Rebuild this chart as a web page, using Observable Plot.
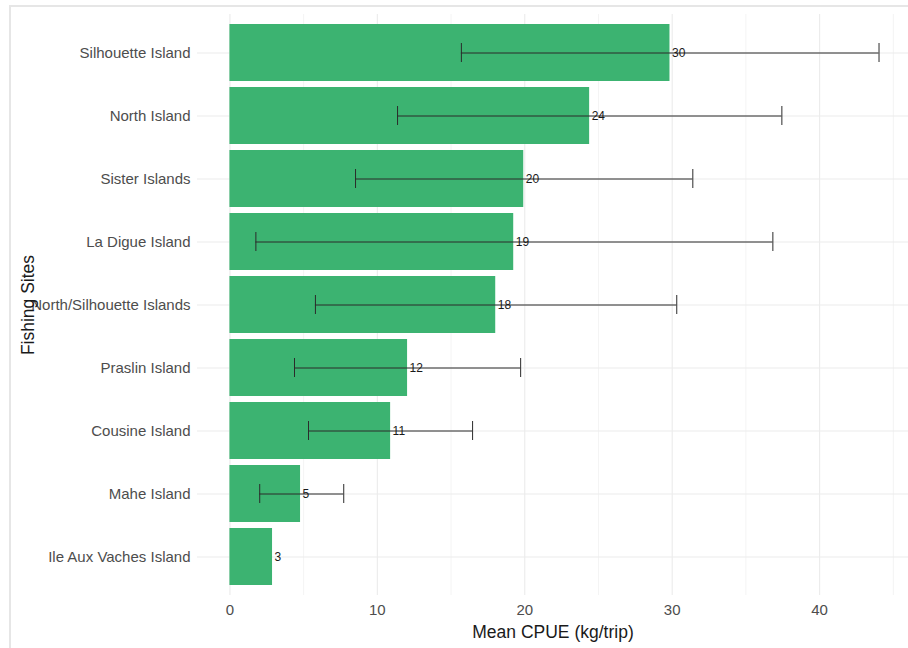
<!DOCTYPE html>
<html>
<head>
<meta charset="utf-8">
<script src="https://cdn.jsdelivr.net/npm/d3@7"></script>
<script src="https://cdn.jsdelivr.net/npm/@observablehq/plot@0.6"></script>
<style>
  html, body { margin: 0; padding: 0; background: #fff; }
  #wrap { position: relative; width: 908px; height: 648px; }
  #frame { position: absolute; left: 9px; top: 5px; right: 0; bottom: 0;
           border-left: 2px solid #e6e6e6; border-top: 2px solid #e6e6e6; pointer-events: none; }
  #chart { position: absolute; left: 0; top: 0; }
</style>
</head>
<body>
<div id="wrap"><div id="chart"></div><div id="frame"></div></div>
<script>
// Data
const sites = ["Silhouette Island", "North Island", "Sister Islands", "La Digue Island",
  "North/Silhouette Islands", "Praslin Island", "Cousine Island", "Mahe Island", "Ile Aux Vaches Island"];
const meanCPUE = [29.85, 24.4, 19.93, 19.25, 18.03, 12.05, 10.9, 4.79, 2.89];
const errLow  = [15.7, 11.37, 8.52, 1.76, 5.8, 4.38, 5.33, 2.02, null];
const errHigh = [44.03, 37.44, 31.4, 36.83, 30.31, 19.72, 16.46, 7.72, null];
const xMajorTicks = [0, 10, 20, 30, 40];
const xMinorTicks = [5, 15, 25, 35, 45];
const xTitle = "Mean CPUE (kg/trip)";
const yTitle = "Fishing Sites";

const rows = sites.map((s, i) => ({site: s, mean: meanCPUE[i], lo: errLow[i], hi: errHigh[i]}));
const errRows = rows.filter(d => d.lo != null);

const font = "'Liberation Sans', Arial, sans-serif";
const grid = "#ebebeb";

const chart = Plot.plot({
  width: 908,
  height: 648,
  marginLeft: 197,
  marginRight: 0,
  marginTop: 14,
  marginBottom: 53,
  style: {fontFamily: font, fontSize: "15px", color: "#4d4d4d", background: "transparent"},
  x: {domain: [-2.2, 46.03], ticks: xMajorTicks, tickSize: 0, tickPadding: 9, label: null},
  y: {domain: sites, paddingInner: 0.1, paddingOuter: 0.15, tickSize: 0, tickPadding: 7, label: null},
  marks: [
    Plot.ruleX(xMinorTicks, {stroke: grid, strokeWidth: 0.6}),
    Plot.ruleX(xMajorTicks, {stroke: grid, strokeWidth: 1.1}),
    Plot.ruleY(sites, {stroke: grid, strokeWidth: 1.1}),
    Plot.barX(rows, {y: "site", x: "mean", fill: "#3CB371"}),
    Plot.ruleY(errRows, {y: "site", x1: "lo", x2: "hi", stroke: "#2b2b2b", strokeWidth: 1}),
    Plot.tickX(errRows, {y: "site", x: "lo", stroke: "#2b2b2b", strokeWidth: 1, insetTop: 19, insetBottom: 19}),
    Plot.tickX(errRows, {y: "site", x: "hi", stroke: "#2b2b2b", strokeWidth: 1, insetTop: 19, insetBottom: 19}),
    Plot.text(rows, {y: "site", x: "mean", text: d => String(Math.round(d.mean)), textAnchor: "start", dx: 2,
      fill: "#1a1a1a", fontSize: 12}),
    Plot.text([xTitle], {frameAnchor: "bottom", lineAnchor: "middle", textAnchor: "middle", dy: 37,
      fill: "#1a1a1a", fontSize: 17.5, text: d => d}),
    Plot.text([yTitle], {frameAnchor: "left", lineAnchor: "middle", textAnchor: "middle", dx: -169, rotate: -90,
      fill: "#1a1a1a", fontSize: 17.5, text: d => d})
  ]
});
document.getElementById("chart").appendChild(chart);
</script>
</body>
</html>
